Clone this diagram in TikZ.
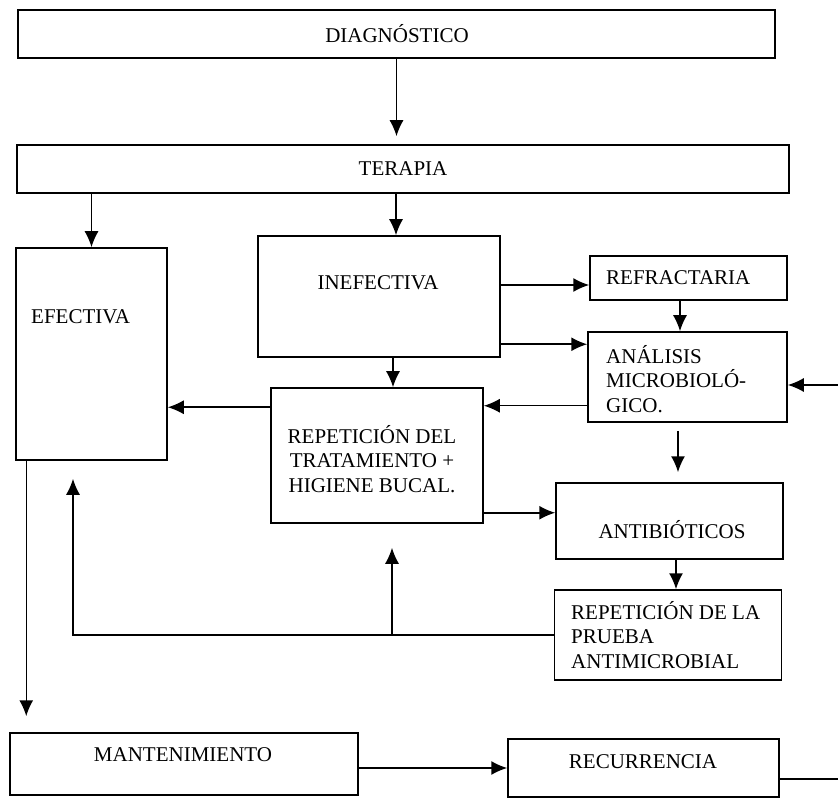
\documentclass[tikz,border=0pt]{standalone}
\usepackage{fontspec}
\setmainfont{Liberation Serif}
\usetikzlibrary{arrows.meta,calc}
\begin{document}
\begin{tikzpicture}[x=1pt,y=-1pt,
  box/.style={draw, line width=1.5pt, inner sep=0pt},
  lbl/.style={inner sep=0pt, font=\fontsize{21}{24.5}\selectfont, align=left},
  arr/.style={line width=1.5pt, -{Latex[length=16pt,width=14pt]}},
  ln/.style={line width=1.5pt}]
\useasboundingbox (0,0) rectangle (838,799);

% boxes
\node[box, minimum width=757, minimum height=48] (diag) at (396.5,34) {};
\node[lbl] (diagt) at (397,34) {DIAGNÓSTICO};
\node[box, minimum width=772, minimum height=48] (ter) at (403,169) {};
\node[lbl] (tert) at (403,169) {TERAPIA};
\node[box, minimum width=151, minimum height=212] (efe) at (91.5,354) {};
\node[lbl, anchor=west] (efet) at (31,317) {EFECTIVA};
\node[box, minimum width=242, minimum height=121] (inef) at (379,296.5) {};
\node[lbl] (ineft) at (378,283) {INEFECTIVA};
\node[box, minimum width=197, minimum height=44] (refr) at (688.5,278) {};
\node[lbl, anchor=west] (refrt) at (606,278) {REFRACTARIA};
\node[box, minimum width=199, minimum height=90] (anal) at (687.5,377) {};
\node[lbl, anchor=west] (analt) at (606,379) {ANÁLISIS\\MICROBIOLÓ-\\GICO.};
\node[box, minimum width=212, minimum height=135] (repd) at (377,455.5) {};
\node[lbl, align=center] (repdt) at (372,459) {REPETICIÓN DEL\\TRATAMIENTO +\\HIGIENE BUCAL.};
\node[box, minimum width=227, minimum height=76] (anti) at (669.5,521) {};
\node[lbl] (antit) at (672,530) {ANTIBIÓTICOS};
\node[box, minimum width=227, minimum height=90] (repl) at (668,635) {};
\node[lbl, anchor=west] (replt) at (571,635) {REPETICIÓN DE LA\\PRUEBA\\ANTIMICROBIAL};
\node[box, minimum width=348, minimum height=62] (mant) at (184,764) {};
\node[lbl] (mantt) at (183,755) {MANTENIMIENTO};
\node[box, minimum width=271, minimum height=58] (recu) at (643.5,768) {};
\node[lbl] (recut) at (643,762) {RECURRENCIA};

% helper coordinates on the boxes
\coordinate (i1) at ($(inef.north)+(17,0)$);
\coordinate (r1) at ($(repd.north)+(16,0)$);
\coordinate (rf) at ($(refr.west)+(0,7)$);
\coordinate (an1) at ($(anal.north west)+(0,13)$);
\coordinate (an2) at ($(anal.north)+(-7.5,0)$);
\coordinate (rin) at (838,385);
\coordinate (an3) at ($(anal.south west)+(0,-17)$);
\coordinate (rd1) at ($(repd.north west)+(0,20)$);
\coordinate (rd2) at ($(repd.south east)+(0,-11)$);
\coordinate (at1) at ($(anti.north)+(8.5,0)$);
\coordinate (at2) at ($(repl.north)+(8,0)$);
\coordinate (j) at ($(efe.south)+(-18.5,18)$);
\coordinate (b) at ($(repd.south)+(15,24)$);
\coordinate (e1) at ($(efe.south west)+(11,0)$);
\coordinate (rc1) at ($(recu.east)+(0,11)$);
\coordinate (rout) at (838,779);

% connectors
\draw[arr, shorten >=8pt] (diag.south) -- (diag.south |- ter.north);
\draw[arr] (ter.south -| efe.north) -- (efe.north);
\draw[arr] (ter.south -| i1) -- (i1);
\draw[arr] (inef.south -| r1) -- (r1);
\draw[arr] (inef.east |- rf) -- (rf);
\draw[arr] (inef.east |- an1) -- (an1);
\draw[arr] (refr.south -| an2) -- (an2);
\draw[arr] (rin) -- (rin -| anal.east);
\draw[arr] (an3) -- (an3 -| repd.east);
\draw[arr] (rd1) -- (rd1 -| efe.east);
\draw[arr] (rd2) -- (rd2 -| anti.west);
\draw[arr, shorten <=8pt, shorten >=10pt] (anal.south -| at1) -- (at1);
\draw[arr] (anti.south -| at2) -- (at2);
\draw[arr] (repl.west) -- (repl.west -| j) -- (j);
\draw[arr] (repl.west -| b) -- (b);
\draw[arr, shorten >=16pt] (e1) -- (e1 |- mant.north);
\draw[arr] (mant.east |- recu.west) -- (recu.west);
\draw[ln] (rc1) -- (rout);
\end{tikzpicture}
\end{document}
